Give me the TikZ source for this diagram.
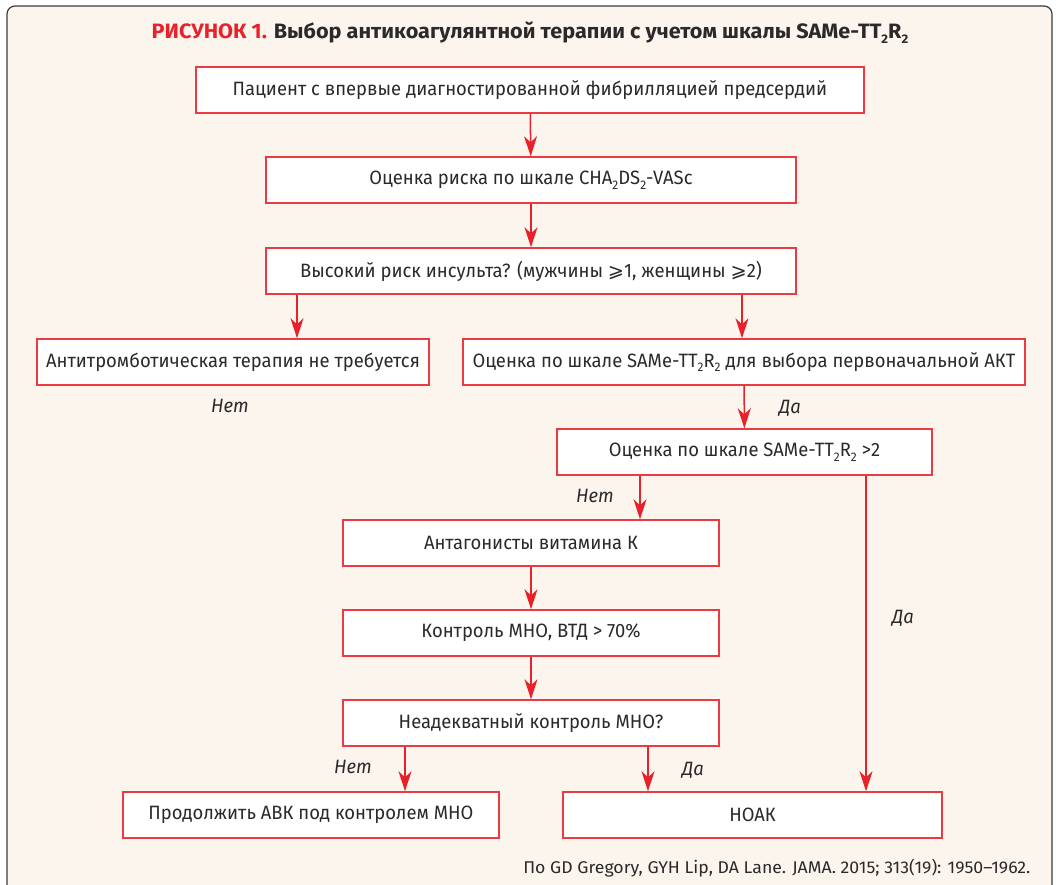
\documentclass[tikz,border=0pt]{standalone}
\usepackage{fontspec}
\setmainfont{Fira Sans}[FakeStretch=0.955]
\newfontfamily\widefont{Fira Sans}[FakeStretch=1.04]
\newfontfamily\symfont{DejaVu Sans}
\usepackage{tikz}
\usetikzlibrary{arrows.meta}

\definecolor{panel}{HTML}{FCF5EE}
\definecolor{frameline}{HTML}{3A3A3A}
\definecolor{boxline}{HTML}{EC3A42}
\definecolor{arrowred}{HTML}{E8222B}
\definecolor{ink}{HTML}{2A2A2A}

\newcommand{\two}{\raisebox{-0.45ex}{\fontsize{12.5}{12.5}\selectfont 2}}
\newcommand{\slgeq}{{\symfont ⩾}}

\begin{document}
\begin{tikzpicture}[x=1pt,y=-1pt,
    every node/.style={text=ink,font=\fontsize{19.3}{22}\selectfont},
    stepbox/.style={draw=boxline,line width=1.4pt,fill=white,inner sep=0pt,
      minimum height=46pt},
    arr/.style={draw=arrowred,line width=1.5pt,
      -{Stealth[length=20pt,width=13pt,inset=6pt]}},
    ans/.style={font=\fontsize{19.3}{22}\selectfont\itshape}]
  \useasboundingbox (0,0) rectangle (1059,884);
  %\draw[help lines] (0,0) grid[step=50] (1059,884);
  \draw[frameline,fill=panel,line width=1.2pt,rounded corners=8] (7,6) rectangle (1052,910);

  \node (title) at (530,33) {\widefont\fontsize{20.8}{24}\selectfont\bfseries
    \textcolor{arrowred}{РИСУНОК 1.} Выбор антикоагулянтной терапии с учетом шкалы SAMe-TT\two R\two};

  \node[stepbox,minimum width=668pt] (patient) at (530,90)
    {Пациент с впервые диагностированной фибрилляцией предсердий};
  \node[stepbox,minimum width=530pt] (cha) at (531,180)
    {Оценка риска по шкале CHA\two DS\two-VASc};
  \node[stepbox,minimum width=530pt] (risk) at (531,271)
    {Высокий риск инсульта? (мужчины \slgeq1, женщины \slgeq2)};
  \node[stepbox,minimum width=392pt] (notreat) at (233,362)
    {Антитромботическая терапия не требуется};
  \node[stepbox,minimum width=562pt] (same) at (744,362)
    {Оценка по шкале SAMe-TT\two R\two{} для выбора первоначальной АКТ};
  \node[stepbox,minimum width=375pt] (score) at (744.5,452)
    {Оценка по шкале SAMe-TT\two R\two{} >2};
  \node[stepbox,minimum width=376pt] (vka) at (531,543) {Антагонисты витамина К};
  \node[stepbox,minimum width=376pt] (inr) at (531,633) {Контроль МНО, ВТД > 70\%};
  \node[stepbox,minimum width=376pt] (bad) at (531,723) {Неадекватный контроль МНО?};
  \node[stepbox,minimum width=376pt] (keep) at (311,815) {Продолжить АВК под контролем МНО};
  \node[stepbox,minimum width=379pt] (noac) at (752.5,815) {НОАК};

  \draw[arr] (patient) -- (cha);
  \draw[arr] (cha) -- (risk);
  \draw[arr] ([xshift=-234]risk.south) -- ([xshift=-234]risk.south |- notreat.north);
  \draw[arr] ([xshift=211]risk.south) -- ([xshift=211]risk.south |- same.north);
  \draw[arr] (same) -- (score);
  \draw[arr] ([xshift=-104.5]score.south) -- ([xshift=-104.5]score.south |- vka.north);
  \draw[arr] ([xshift=121.5]score.south) -- ([xshift=121.5]score.south |- noac.north);
  \draw[arr] (vka) -- (inr);
  \draw[arr] (inr) -- (bad);
  \draw[arr] ([xshift=-126]bad.south) -- ([xshift=-126]bad.south |- keep.north);
  \draw[arr] ([xshift=117]bad.south) -- ([xshift=117]bad.south |- noac.north);

  \node[ans] (no1) at (230,406) {Нет};
  \node[ans] (yes1) at (790,408) {Да};
  \node[ans] (no2) at (595,496) {Нет};
  \node[ans] (yes2) at (903,618) {Да};
  \node[ans] (no3) at (353,767) {Нет};
  \node[ans] (yes3) at (693,770) {Да};

  \node[anchor=east,font=\widefont\fontsize{17}{19}\selectfont] (src) at (1034,868)
    {По GD Gregory, GYH Lip, DA Lane. JAMA. 2015; 313(19): 1950–1962.};
\end{tikzpicture}
\end{document}
